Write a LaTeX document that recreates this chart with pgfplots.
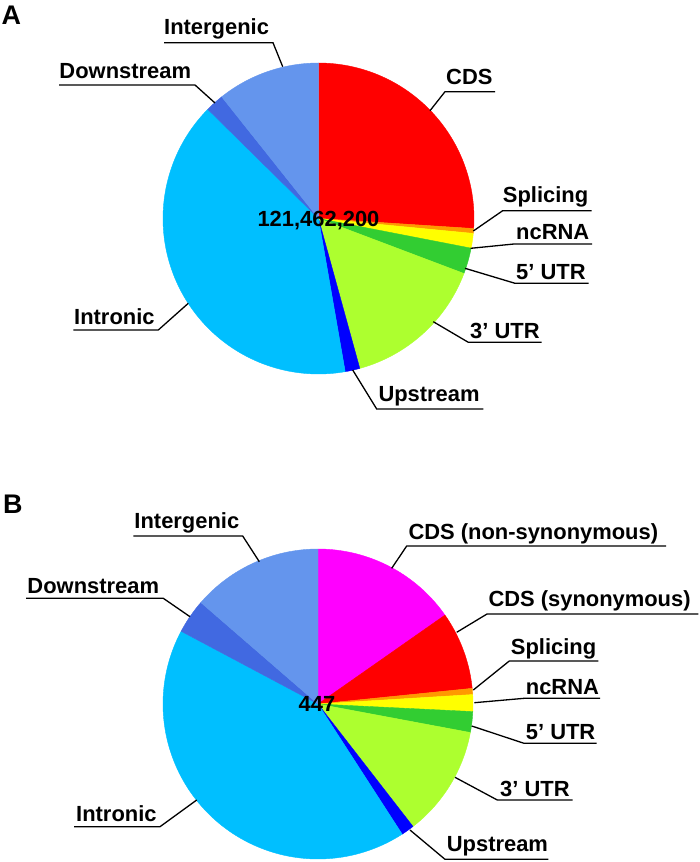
\documentclass[border=0pt]{standalone}
\usepackage{pgfplots}
\pgfplotsset{compat=1.18}
\usepackage{fontspec}
\setmainfont{Liberation Sans}
\definecolor{cCDS}{HTML}{FF0000}
\definecolor{cNS}{HTML}{FF00FF}
\definecolor{cSpl}{HTML}{FF9900}
\definecolor{cNc}{HTML}{FFFF00}
\definecolor{cFive}{HTML}{32CD32}
\definecolor{cThree}{HTML}{ADFF2F}
\definecolor{cUp}{HTML}{0000FF}
\definecolor{cIntr}{HTML}{00BFFF}
\definecolor{cDown}{HTML}{4169E1}
\definecolor{cInter}{HTML}{6495ED}
\tikzset{
  lbl/.style={anchor=base west, inner sep=0pt, font=\fontsize{22}{26}\selectfont\bfseries},
  ldr/.style={draw=black, line width=1.3bp, line join=miter}}
% slice: color, start angle, end angle, centre x, centre y, radius
\newcommand{\slice}[6]{%
  \addplot[fill=#1, draw=#1, line width=0.4bp, line join=round, no markers,
    domain=#2:#3, samples=90, variable=\t]
    ({#4+#6*cos(\t)},{#5-#6*sin(\t)}) -- (axis cs:#4,#5) -- cycle;}
\begin{document}
\begin{tikzpicture}
\begin{axis}[width=700bp, height=862bp, scale only axis,
  xmin=0, xmax=700, ymin=0, ymax=862, y dir=reverse,
  hide axis, clip=false]
\path (axis cs:0,0) rectangle (axis cs:700,862);
% ---------- Pie A (boundary angles in degrees) ----------
\slice{cCDS}{-3.7}{90}{318.5}{218.5}{155.5}
\slice{cSpl}{-5.5}{-3.7}{318.5}{218.5}{155.5}
\slice{cNc}{-11}{-5.5}{318.5}{218.5}{155.5}
\slice{cFive}{-20.7}{-11}{318.5}{218.5}{155.5}
\slice{cThree}{-74.6}{-20.7}{318.5}{218.5}{155.5}
\slice{cUp}{-80.1}{-74.6}{318.5}{218.5}{155.5}
\slice{cIntr}{-224.6}{-80.1}{318.5}{218.5}{155.5}
\slice{cDown}{-231.5}{-224.6}{318.5}{218.5}{155.5}
\slice{cInter}{-270}{-231.5}{318.5}{218.5}{155.5}
% ---------- Pie B ----------
\slice{cNS}{35}{90}{318}{704}{155}
\slice{cCDS}{5.8}{35}{318}{704}{155}
\slice{cSpl}{3.5}{5.8}{318}{704}{155}
\slice{cNc}{-2.8}{3.5}{318}{704}{155}
\slice{cFive}{-10.6}{-2.8}{318}{704}{155}
\slice{cThree}{-52.2}{-10.6}{318}{704}{155}
\slice{cUp}{-57.1}{-52.2}{318}{704}{155}
\slice{cIntr}{-208}{-57.1}{318}{704}{155}
\slice{cDown}{-220.9}{-208}{318}{704}{155}
\slice{cInter}{-270}{-220.9}{318}{704}{155}
% ---------- labels ----------
\node[anchor=base west, inner sep=0pt, font=\fontsize{27}{30}\selectfont\bfseries] at (axis cs:1.5,25) {A};
\node[anchor=base west, inner sep=0pt, font=\fontsize{27}{30}\selectfont\bfseries] at (axis cs:3,513.3) {B};
% A
\node[lbl] at (axis cs:164,35) {Intergenic};
\draw[ldr] (axis cs:282.7,66.7) -- (axis cs:273,42.7) -- (axis cs:164,42.7);
\node[lbl] at (axis cs:59.3,78.3) {Downstream};
\draw[ldr] (axis cs:215,103) -- (axis cs:195,85) -- (axis cs:59,85);
\node[lbl] at (axis cs:446,85) {CDS};
\draw[ldr] (axis cs:430,110.7) -- (axis cs:445,91.7) -- (axis cs:495,91.7);
\node[lbl] at (axis cs:502.7,202.7) {Splicing};
\draw[ldr] (axis cs:473.3,231) -- (axis cs:502.7,210.7) -- (axis cs:591.7,210.7);
\node[lbl] at (axis cs:516,239) {ncRNA};
\draw[ldr] (axis cs:470.7,248.3) -- (axis cs:514,244) -- (axis cs:592,244);
\node[lbl] at (axis cs:516,279.3) {5’ UTR};
\draw[ldr] (axis cs:465,268.3) -- (axis cs:515,283.3) -- (axis cs:588.7,283.3);
\node[lbl] at (axis cs:470,338.3) {3’ UTR};
\draw[ldr] (axis cs:433.3,321.7) -- (axis cs:468.3,342.3) -- (axis cs:541.7,342.3);
\node[lbl] at (axis cs:378.3,401) {Upstream};
\draw[ldr] (axis cs:352.7,370) -- (axis cs:376.7,409) -- (axis cs:483.3,409);
\node[lbl] at (axis cs:74,324) {Intronic};
\draw[ldr] (axis cs:188.3,303.3) -- (axis cs:158.3,330) -- (axis cs:73.3,330);
\node[lbl, anchor=base] at (axis cs:318.5,226.7) {121,462,200};
% B
\node[lbl] at (axis cs:408.3,539.3) {CDS (non-synonymous)};
\draw[ldr] (axis cs:391.7,568.3) -- (axis cs:406.7,546) -- (axis cs:666,546);
\node[lbl] at (axis cs:488.3,606.7) {CDS (synonymous)};
\draw[ldr] (axis cs:456.7,632.3) -- (axis cs:487,614) -- (axis cs:698.3,614);
\node[lbl] at (axis cs:510.7,654) {Splicing};
\draw[ldr] (axis cs:473.3,690) -- (axis cs:509.3,661) -- (axis cs:598.3,661);
\node[lbl] at (axis cs:525.7,694.3) {ncRNA};
\draw[ldr] (axis cs:474.3,702.7) -- (axis cs:524.3,698.3) -- (axis cs:600,698.3);
\node[lbl] at (axis cs:525.7,739.3) {5’ UTR};
\draw[ldr] (axis cs:471.7,726) -- (axis cs:524,743.3) -- (axis cs:596.7,743.3);
\node[lbl] at (axis cs:500,796) {3’ UTR};
\draw[ldr] (axis cs:455,777.3) -- (axis cs:497.3,800) -- (axis cs:572.7,800);
\node[lbl] at (axis cs:446.7,851.7) {Upstream};
\draw[ldr] (axis cs:410,830) -- (axis cs:445,859.3) -- (axis cs:548.3,859.3);
\node[lbl] at (axis cs:134.3,528.3) {Intergenic};
\draw[ldr] (axis cs:259.3,561.7) -- (axis cs:242.7,536) -- (axis cs:133.3,536);
\node[lbl] at (axis cs:27.3,593.3) {Downstream};
\draw[ldr] (axis cs:190,616.7) -- (axis cs:163.3,598.3) -- (axis cs:26,598.3);
\node[lbl] at (axis cs:76,821.7) {Intronic};
\draw[ldr] (axis cs:196.7,800) -- (axis cs:160,826.7) -- (axis cs:74,826.7);
\node[lbl, anchor=base] at (axis cs:317,711.7) {447};
\end{axis}
\end{tikzpicture}
\end{document}
